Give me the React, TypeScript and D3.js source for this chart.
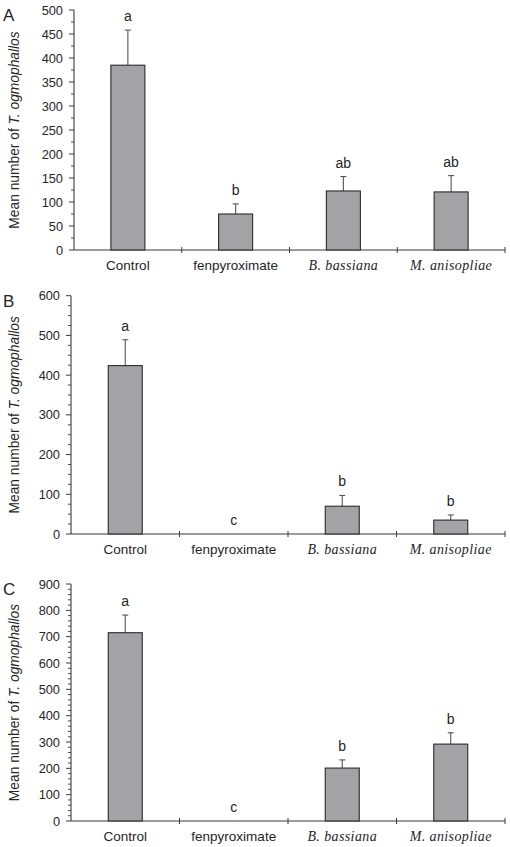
import React from "react";
import * as d3 from "d3";

const categories = ["Control", "fenpyroximate", "B. bassiana", "M. anisopliae"];
const italicCategory = [false, false, true, true];

const meansA = [385, 75, 123, 121];
const errorsA = [73, 21, 30, 34];
const lettersA = ["a", "b", "ab", "ab"];
const ticksA = [0, 50, 100, 150, 200, 250, 300, 350, 400, 450, 500];
const minorStepA = 25;

const meansB = [424, 0, 70, 35];
const errorsB = [65, 0, 27, 13];
const lettersB = ["a", "c", "b", "b"];
const ticksB = [0, 100, 200, 300, 400, 500, 600];
const minorStepB = 25;

const meansC = [715, 0, 201, 292];
const errorsC = [67, 0, 31, 43];
const lettersC = ["a", "c", "b", "b"];
const ticksC = [0, 100, 200, 300, 400, 500, 600, 700, 800, 900];
const minorStepC = 20;

const panelLabels = ["A", "B", "C"];

const W = 510;
const H = 847;

const SANS = "Arial, 'Liberation Sans', Helvetica, sans-serif";
const SERIF = "'Times New Roman', 'Liberation Serif', serif";
const AXIS = "#3a3a3a";
const TEXT = "#262626";
const BAR = "#a3a3a6";

type PanelProps = {
  label: string;
  means: number[];
  errors: number[];
  letters: string[];
  ticks: number[];
  minorStep: number;
  top: number;
  bottom: number;
  left: number;
  right: number;
};

function Panel(p: PanelProps) {
  const max = p.ticks[p.ticks.length - 1];
  const y = d3.scaleLinear().domain([0, max]).range([p.bottom, p.top]);
  const x = d3.scaleBand<string>().domain(categories).range([p.left, p.right]).padding(0);
  const barW = 34;
  const minor = d3.range(0, max + 0.001, p.minorStep).filter((v) => !p.ticks.includes(v));
  const midY = (p.top + p.bottom) / 2;
  return (
    <g>
      <text x={3} y={p.top + 11} fontFamily={SANS} fontSize={17} fill={TEXT}>
        {p.label}
      </text>
      <text
        transform={`translate(19,${midY}) rotate(-90)`}
        textAnchor="middle"
        fontFamily={SANS}
        fontSize={13.8}
        fill={TEXT}
      >
        <tspan>Mean number of </tspan>
        <tspan fontStyle="italic">T. ogmophallos</tspan>
      </text>
      <line x1={p.left} x2={p.left} y1={p.top} y2={p.bottom} stroke={AXIS} strokeWidth={1.1} />
      {p.ticks.map((t) => (
        <g key={"t" + t}>
          <line x1={p.left - 5} x2={p.left} y1={y(t)} y2={y(t)} stroke={AXIS} strokeWidth={1} />
          <text
            x={p.left - 11}
            y={y(t)}
            dy="0.36em"
            textAnchor="end"
            fontFamily={SANS}
            fontSize={12.8}
            fill={TEXT}
          >
            {t}
          </text>
        </g>
      ))}
      {minor.map((t) => (
        <line key={"m" + t} x1={p.left - 3} x2={p.left} y1={y(t)} y2={y(t)} stroke={AXIS} strokeWidth={0.9} />
      ))}
      <line x1={p.left} x2={p.right} y1={p.bottom} y2={p.bottom} stroke={AXIS} strokeWidth={1.1} />
      {categories.map((c) => {
        const xe = (x(c) as number) + x.bandwidth();
        return (
          <line key={"xt" + c} x1={xe} x2={xe} y1={p.bottom - 3} y2={p.bottom + 3} stroke={AXIS} strokeWidth={1} />
        );
      })}
      {categories.map((c, i) => {
        const cx = (x(c) as number) + x.bandwidth() / 2;
        const v = p.means[i];
        const e = p.errors[i];
        const yt = y(v);
        const ye = y(v + e);
        return (
          <g key={"b" + c}>
            {v > 0 && (
              <>
                <line x1={cx} x2={cx} y1={yt} y2={ye} stroke="#555" strokeWidth={1.1} />
                <line x1={cx - 3} x2={cx + 3} y1={ye} y2={ye} stroke="#555" strokeWidth={1.1} />
                <rect
                  x={cx - barW / 2}
                  y={yt}
                  width={barW}
                  height={p.bottom - yt}
                  fill={BAR}
                  stroke="#2a2a2a"
                  strokeWidth={1.1}
                />
              </>
            )}
            <text x={cx} y={ye - 9} textAnchor="middle" fontFamily={SANS} fontSize={14} fill={TEXT}>
              {p.letters[i]}
            </text>
            <text
              x={cx}
              y={p.bottom + 20}
              textAnchor="middle"
              fontFamily={italicCategory[i] ? SERIF : SANS}
              fontStyle={italicCategory[i] ? "italic" : "normal"}
              fontSize={italicCategory[i] ? 14 : 13.5}
              letterSpacing={italicCategory[i] ? 0.4 : 0}
              fill={TEXT}
            >
              {c}
            </text>
          </g>
        );
      })}
    </g>
  );
}

export default function App() {
  return (
    <svg
      width={W}
      height={H}
      viewBox={`0 0 ${W} ${H}`}
      style={{ position: "absolute", left: 0, top: 0, background: "#fff" }}
    >
      <rect width={W} height={H} fill="#fff" />
      <Panel
        label={panelLabels[0]}
        means={meansA}
        errors={errorsA}
        letters={lettersA}
        ticks={ticksA}
        minorStep={minorStepA}
        top={10}
        bottom={250}
        left={74}
        right={505}
      />
      <Panel
        label={panelLabels[1]}
        means={meansB}
        errors={errorsB}
        letters={lettersB}
        ticks={ticksB}
        minorStep={minorStepB}
        top={295.7}
        bottom={534}
        left={71}
        right={505}
      />
      <Panel
        label={panelLabels[2]}
        means={meansC}
        errors={errorsC}
        letters={lettersC}
        ticks={ticksC}
        minorStep={minorStepC}
        top={584}
        bottom={821}
        left={71}
        right={505}
      />
    </svg>
  );
}
